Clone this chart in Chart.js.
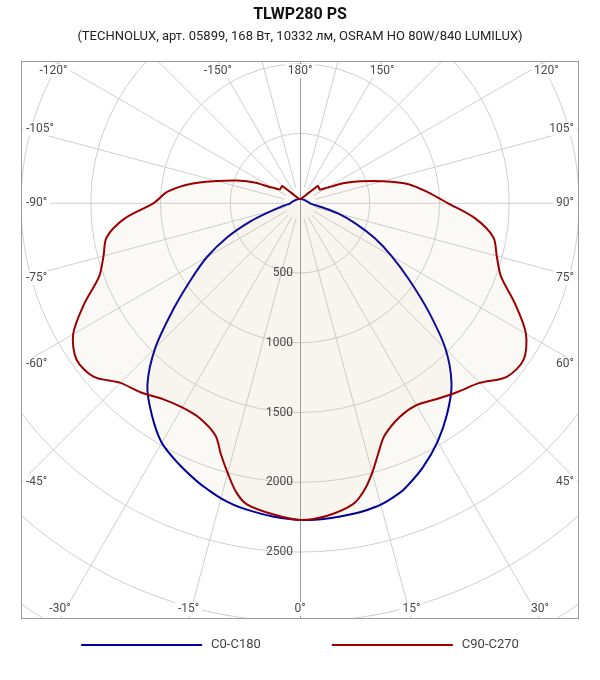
<!DOCTYPE html>
<html lang="ru">
<head>
    <meta charset="UTF-8">
    <title>TLWP280 PS</title>
    <script src="https://cdn.jsdelivr.net/npm/chart.js"></script>
    <style>
        body {
            margin: 0;
            padding: 0;
            background: #ffffff;
        }
        canvas {
            display: block;
        }
    </style>
</head>
<body>
    <canvas id="polarChart" width="600" height="680"></canvas>

    <script>
        // gamma angles (deg from nadir), shared by all half-planes
        const gammaAngles = [0, 5, 10, 12.5, 15, 17.5, 20, 25, 30, 35, 40, 45, 50, 55, 60, 65, 70, 75, 80, 85,
            90, 95, 100, 105, 110, 115, 118, 120, 122.5, 125, 130, 134, 137, 140, 145, 150, 160, 170, 180];

        // intensity, cd
        const c0Values = [2270, 2268, 2258, 2250, 2237, 2212, 2181, 2087, 1973, 1840, 1690, 1475, 1200, 955, 760, 590, 425, 282, 155, 95,
            72, 64, 58, 52, 48, 45, 43, 42, 41, 40, 38, 37, 36, 35, 34, 33, 32, 31, 30];
        const c180Values = [2270, 2254, 2228, 2212, 2190, 2160, 2130, 2060, 1982, 1852, 1702, 1468, 1188, 955, 770, 575, 378, 215, 135, 90,
            70, 63, 57, 52, 48, 45, 43, 42, 41, 40, 38, 37, 36, 35, 34, 33, 32, 31, 30];
        const c90Values = [2270, 2248, 2190, 2113, 2000, 1873, 1772, 1690, 1670, 1712, 1763, 1821, 1935, 1956, 1870, 1700, 1533, 1460, 1408, 1263,
            1061, 918, 790, 610, 460, 340, 258, 225, 190, 172, 176, 178, 130, 100, 70, 55, 40, 32, 30];
        const c270Values = [2270, 2238, 2192, 2119, 2002, 1886, 1772, 1700, 1690, 1714, 1771, 1821, 1933, 1955, 1878, 1707, 1532, 1458, 1408, 1263,
            1052, 953, 798, 615, 478, 350, 250, 225, 190, 175, 176, 178, 130, 100, 70, 55, 40, 32, 30];

        const seriesNames = ['C0-C180', 'C90-C270'];
        const radialTicks = [500, 1000, 1500, 2000, 2500];
        const angleTicks = [-120, -150, 180, 150, 120, -105, -90, -75, -60, -45, -30, -15, 0, 15, 30, 105, 90, 75, 60, 45];

        // polar (left half, right half) -> closed x/y loop, nadir pointing down
        function toXY(leftVals, rightVals) {
            const pts = [];
            for (let i = gammaAngles.length - 1; i >= 0; i--) {
                const a = -gammaAngles[i] * Math.PI / 180;
                pts.push({x: leftVals[i] * Math.sin(a), y: -leftVals[i] * Math.cos(a)});
            }
            for (let i = 1; i < gammaAngles.length; i++) {
                const a = gammaAngles[i] * Math.PI / 180;
                pts.push({x: rightVals[i] * Math.sin(a), y: -rightVals[i] * Math.cos(a)});
            }
            return pts;
        }

        const FONT = 'Roboto';

        const polarGrid = {
            id: 'polarGrid',
            beforeDraw(chart) {
                const {ctx, chartArea: area, scales: {x, y}} = chart;
                const cx = x.getPixelForValue(0), cy = y.getPixelForValue(0);
                const k = x.getPixelForValue(1000) - cx;
                ctx.save();
                ctx.beginPath();
                ctx.rect(area.left, area.top, area.right - area.left, area.bottom - area.top);
                ctx.clip();
                ctx.strokeStyle = '#cfcfcf';
                ctx.lineWidth = 1;
                for (let v = 500; v <= 4000; v += 500) {
                    ctx.beginPath();
                    ctx.arc(cx, cy, v / 1000 * k, 0, Math.PI * 2);
                    ctx.stroke();
                }
                const r0 = 16;
                for (let a = -165; a < 180; a += 15) {
                    if (a === 0) continue;
                    const t = a * Math.PI / 180;
                    const dx = Math.sin(t), dy = Math.cos(t);
                    ctx.beginPath();
                    ctx.moveTo(cx + dx * r0, cy + dy * r0);
                    ctx.lineTo(cx + dx * 900, cy + dy * 900);
                    ctx.stroke();
                }
                ctx.strokeStyle = '#9a9a9a';
                ctx.beginPath();
                ctx.moveTo(Math.round(cx) + 0.5, area.top);
                ctx.lineTo(Math.round(cx) + 0.5, area.bottom);
                ctx.stroke();
                ctx.restore();

                ctx.save();
                ctx.strokeStyle = '#9a9a9a';
                ctx.lineWidth = 1;
                ctx.strokeRect(Math.round(area.left) + 0.5, Math.round(area.top) + 0.5,
                    Math.round(area.right - area.left) - 1, Math.round(area.bottom - area.top) - 1);
                ctx.restore();
            }
        };

        const polarLabels = {
            id: 'polarLabels',
            afterDatasetsDraw(chart) {
                const {ctx, chartArea: area, scales: {x, y}} = chart;
                const cx = x.getPixelForValue(0), cy = y.getPixelForValue(0);
                ctx.save();
                ctx.font = '12px ' + FONT;
                ctx.fillStyle = '#4a4a4a';
                ctx.textBaseline = 'middle';

                ctx.textAlign = 'right';
                radialTicks.forEach(v => {
                    ctx.fillText(String(v), cx - 7, y.getPixelForValue(-v));
                });

                angleTicks.forEach(a => {
                    const t = a * Math.PI / 180;
                    const dx = Math.sin(t), dy = Math.cos(t);
                    let best = Infinity, side = '';
                    if (dy < -1e-9) { const s = (area.top - cy) / dy; if (s < best) { best = s; side = 'top'; } }
                    if (dy > 1e-9) { const s = (area.bottom - cy) / dy; if (s < best) { best = s; side = 'bottom'; } }
                    if (dx < -1e-9) { const s = (area.left - cx) / dx; if (s < best) { best = s; side = 'left'; } }
                    if (dx > 1e-9) { const s = (area.right - cx) / dx; if (s < best) { best = s; side = 'right'; } }
                    const hx = cx + dx * best, hy = cy + dy * best;
                    const text = a + '°';
                    const w = ctx.measureText(text).width;
                    let tx, ty, align;
                    if (side === 'top') { tx = hx; ty = area.top + 10; align = 'center'; }
                    else if (side === 'bottom') { tx = hx; ty = area.bottom - 10; align = 'center'; }
                    else if (side === 'left') { tx = area.left + 5; ty = hy; align = 'left'; }
                    else { tx = area.right - 5; ty = hy; align = 'right'; }
                    const bx = align === 'center' ? tx - w / 2 : (align === 'left' ? tx : tx - w);
                    ctx.fillStyle = '#ffffff';
                    ctx.fillRect(bx - 3, ty - 7, w + 6, 14);
                    ctx.fillStyle = '#4a4a4a';
                    ctx.textAlign = align;
                    ctx.fillText(text, tx, ty);
                });
                ctx.restore();
            }
        };

        const lineLegend = {
            id: 'lineLegend',
            afterDraw(chart) {
                const {ctx} = chart;
                const lineW = 121, gap = 9, itemGap = 71, yy = 645;
                ctx.save();
                ctx.font = '13px ' + FONT;
                const items = chart.data.datasets.map(ds => ({ds, w: lineW + gap + ctx.measureText(ds.label).width}));
                const total = items.reduce((s, it) => s + it.w, 0) + itemGap * (items.length - 1);
                let xx = (chart.width - total) / 2;
                items.forEach(it => {
                    ctx.strokeStyle = it.ds.borderColor;
                    ctx.lineWidth = 2;
                    ctx.beginPath();
                    ctx.moveTo(xx, yy);
                    ctx.lineTo(xx + lineW, yy);
                    ctx.stroke();
                    ctx.fillStyle = '#444444';
                    ctx.textAlign = 'left';
                    ctx.textBaseline = 'middle';
                    ctx.fillText(it.ds.label, xx + lineW + gap, yy);
                    xx += it.w + itemGap;
                });
                ctx.restore();
            }
        };

        const ctx = document.getElementById('polarChart').getContext('2d');
        const polarChart = new Chart(ctx, {
            type: 'scatter',
            data: {
                datasets: [{
                    label: seriesNames[0],
                    data: toXY(c180Values, c0Values),
                    borderColor: '#00009c',
                    backgroundColor: 'rgba(200, 175, 130, 0.07)',
                    fill: 'shape',
                    showLine: true,
                    pointRadius: 0,
                    borderWidth: 2,
                    tension: 0.3,
                    order: 2
                }, {
                    label: seriesNames[1],
                    data: toXY(c270Values, c90Values),
                    borderColor: '#9c0000',
                    backgroundColor: 'rgba(200, 175, 130, 0.07)',
                    fill: 'shape',
                    showLine: true,
                    pointRadius: 0,
                    borderWidth: 2,
                    tension: 0.3,
                    order: 1
                }]
            },
            options: {
                responsive: false,
                animation: false,
                layout: {
                    padding: {left: 21, right: 21, top: 0, bottom: 61}
                },
                scales: {
                    x: {type: 'linear', min: -2000, max: 2000, display: false},
                    y: {type: 'linear', min: -2980, max: 1020, display: false}
                },
                plugins: {
                    legend: {display: false},
                    tooltip: {enabled: false},
                    title: {
                        display: true,
                        text: 'TLWP280 PS',
                        color: '#111111',
                        font: {family: FONT, size: 16, weight: 'bold'},
                        padding: {top: 5, bottom: 5}
                    },
                    subtitle: {
                        display: true,
                        text: '(TECHNOLUX, арт. 05899, 168 Вт, 10332 лм, OSRAM HO 80W/840 LUMILUX)',
                        color: '#222222',
                        font: {family: FONT, size: 13},
                        padding: {top: 0, bottom: 16.2}
                    }
                }
            },
            plugins: [polarGrid, polarLabels, lineLegend]
        });
    </script>
</body>
</html>
